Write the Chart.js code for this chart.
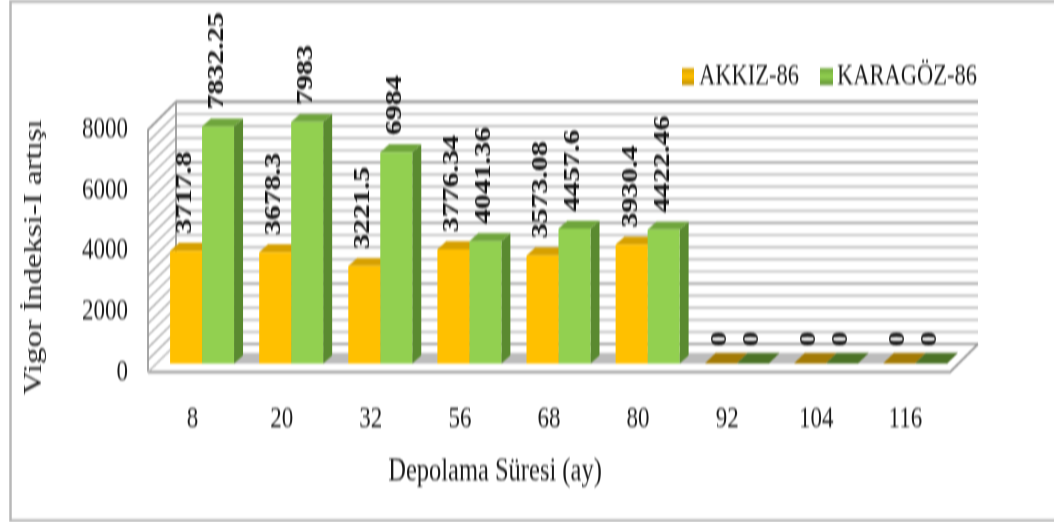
<!DOCTYPE html>
<html>
<head>
<meta charset="utf-8">
<style>
html,body{margin:0;padding:0;background:#fff;overflow:hidden;width:1054px;height:522px}
#w{width:1054px;height:402px;transform-origin:0 0;transform:scale(1,1.2985);filter:blur(.7px)}
canvas{display:block}
</style>
<script src="https://cdn.jsdelivr.net/npm/chart.js@4"></script>
</head>
<body>
<div id="w"><canvas id="c" width="1054" height="402"></canvas></div>
<script>
const categories = ['8','20','32','56','68','80','92','104','116'];
const akkiz = [3717.8,3678.3,3221.5,3776.34,3573.08,3930.4,0,0,0];
const karagoz = [7832.25,7983,6984,4041.36,4457.6,4422.46,0,0,0];
const seriesNames = ['AKKIZ-86','KARAGÖZ-86'];
const xTitle = 'Depolama Süresi (ay)';
const yTitle = 'Vigor İndeksi-I artışı';

const K = 1.2985, SERIF = '"Liberation Serif","Times New Roman",serif';
const WALL = {dx:28, dy:28/K}, BAR = {dx:9.5, dy:8.5/K}, DEPTH = {dx:9, dy:8/K}, FLAT = {dx:11, dy:10.5/K};
const face = [
 {front:'#ffc000', side:'#b98a00', top:'#d6a000', flat:'#a37a05'},
 {front:'#92d050', side:'#5a8a30', top:'#6fa53c', flat:'#4b7326'}
];
function poly(ctx, pts, fill, stroke, lw){
  ctx.beginPath();
  pts.forEach((p,i)=> i?ctx.lineTo(p[0],p[1]):ctx.moveTo(p[0],p[1]));
  ctx.closePath();
  if(fill){ctx.fillStyle=fill;ctx.fill();}
  if(stroke){ctx.strokeStyle=stroke;ctx.lineWidth=lw||1;ctx.stroke();}
}
const scene = {
  id:'scene',
  beforeDraw(chart){
    const {ctx, scales:{x,y}} = chart;
    const L=x.left,R=x.right,B=y.getPixelForValue(0),T=y.getPixelForValue(8000);
    ctx.save();
    ctx.fillStyle='#fff';ctx.fillRect(0,0,chart.width,chart.height);
    // frame
    ctx.strokeStyle='#b8b8b8';ctx.lineWidth=2.5;
    ctx.strokeRect(10.5,1,1080,400);
    // floor
    poly(ctx,[[L,B],[L+WALL.dx,B-WALL.dy],[R+WALL.dx,B-WALL.dy],[R,B]],'#fff');
    // back wall + left wall lines
    y.ticks.forEach(t=>{
      const p=y.getPixelForValue(t.value), major=t.value%2000===0;
      ctx.strokeStyle=major?'#a0a0a0':'#bebebe';
      ctx.lineWidth=major?1.8:1.7;
      ctx.beginPath();
      ctx.moveTo(L+WALL.dx,p-WALL.dy);ctx.lineTo(R+WALL.dx,p-WALL.dy);ctx.stroke();
      ctx.strokeStyle='#b0b0b0';ctx.lineWidth=1.4;
      ctx.beginPath();
      ctx.moveTo(L,p);ctx.lineTo(L+WALL.dx,p-WALL.dy);ctx.stroke();
    });
    // wall edges
    ctx.strokeStyle='#989898';ctx.lineWidth=1.7;
    ctx.beginPath();
    ctx.moveTo(L,B);ctx.lineTo(L,T);ctx.lineTo(L+WALL.dx,T-WALL.dy);ctx.lineTo(R+WALL.dx,T-WALL.dy);
    ctx.stroke();
    ctx.beginPath();
    ctx.moveTo(L+WALL.dx,T-WALL.dy);ctx.lineTo(L+WALL.dx,B-WALL.dy);ctx.stroke();
    // floor outline
    ctx.strokeStyle='#989898';ctx.lineWidth=1.8;
    ctx.beginPath();
    ctx.moveTo(L,B);ctx.lineTo(R,B);ctx.lineTo(R+WALL.dx,B-WALL.dy);ctx.stroke();
    ctx.strokeStyle='#c6c6c6';ctx.lineWidth=1.2;
    ctx.beginPath();
    ctx.moveTo(L,B);ctx.lineTo(L+WALL.dx,B-WALL.dy);ctx.stroke();
    // floor shadow band
    const first=chart.getDatasetMeta(0).data[0], last=chart.getDatasetMeta(1).data[8];
    const bx0=first.x-first.width/2+BAR.dx, bx1=last.x+last.width/2+BAR.dx, by=B-BAR.dy;
    poly(ctx,[[bx0,by],[bx0+FLAT.dx,by-FLAT.dy],[bx1+FLAT.dx,by-FLAT.dy],[bx1,by]],'#bcbcbc');
    ctx.restore();
  },
  beforeDatasetsDraw(chart){
    const ctx=chart.ctx;
    ctx.save();
    ctx.translate(BAR.dx,-BAR.dy);
    [0,1].forEach(d=>{
      chart.getDatasetMeta(d).data.forEach(b=>{
        const l=b.x-b.width/2,r=b.x+b.width/2,t=b.y,base=b.base,f=face[d];
        const flat=Math.abs(base-t)<0.5, D=flat?FLAT:DEPTH;
        if(!flat) poly(ctx,[[r,t],[r+D.dx,t-D.dy],[r+D.dx,base-D.dy],[r,base]],f.side);
        poly(ctx,[[l,t],[l+D.dx,t-D.dy],[r+D.dx,t-D.dy],[r,t]],flat?f.flat:f.top);
      });
    });
  },
  afterDatasetsDraw(chart){
    const ctx=chart.ctx;
    ctx.restore();
    // data labels
    ctx.save();
    ctx.font='bold 23px '+SERIF;
    ctx.fillStyle='#111';
    ctx.textAlign='left';ctx.textBaseline='middle';
    [0,1].forEach(d=>{
      const vals=chart.data.datasets[d].data;
      chart.getDatasetMeta(d).data.forEach((b,i)=>{
        ctx.save();
        ctx.translate(b.x+BAR.dx-1,b.y-BAR.dy-DEPTH.dy-7);
        ctx.rotate(-Math.PI/2);
        ctx.fillText(String(vals[i]),0,0);
        ctx.restore();
      });
    });
    ctx.restore();
  },
  afterDraw(chart){
    const ctx=chart.ctx;
    ctx.save();
    ctx.fillStyle='#1a1a1a';
    ctx.textBaseline='middle';
    // axis titles
    ctx.textAlign='center';
    ctx.font='24.5px '+SERIF;
    ctx.fillText(xTitle,495,472/K);
    ctx.save();
    ctx.translate(34,257/K);ctx.rotate(-Math.PI/2);
    ctx.font='25.3px '+SERIF;
    ctx.fillText(yTitle,0,0);
    ctx.restore();
    // legend
    ctx.textAlign='left';
    ctx.font='22.5px '+SERIF;
    const items=[{bx:682,tx:699,w:12},{bx:820,tx:837,w:13}];
    items.forEach((it,d)=>{
      const g=ctx.createLinearGradient(0,52,0,66);
      g.addColorStop(0,face[d].top);g.addColorStop(.5,face[d].front);g.addColorStop(1,face[d].side);
      ctx.fillStyle=g;
      ctx.fillRect(it.bx,52.5,it.w,13);
      ctx.fillStyle='#1a1a1a';
      ctx.fillText(chart.data.datasets[d].label,it.tx,59.5);
    });
    ctx.restore();
  }
};
new Chart(document.getElementById('c'),{
  type:'bar',
  data:{
    labels:categories,
    datasets:[
      {label:seriesNames[0],data:akkiz,backgroundColor:face[0].front,borderWidth:0},
      {label:seriesNames[1],data:karagoz,backgroundColor:face[1].front,borderWidth:0}
    ]
  },
  plugins:[scene],
  options:{
    responsive:false,
    animation:false,
    layout:{padding:{left:0,top:100,right:104,bottom:0}},
    plugins:{legend:{display:false},tooltip:{enabled:false},title:{display:false}},
    datasets:{bar:{categoryPercentage:0.718,barPercentage:1}},
    scales:{
      x:{
        grid:{display:false},border:{display:false},
        ticks:{color:'#1a1a1a',font:{family:SERIF,size:23},padding:15,maxRotation:0,autoSkip:false},
        afterFit(s){s.height=115.5;}
      },
      y:{
        min:0,max:8000,
        grid:{display:false,drawTicks:false},border:{display:false},
        ticks:{stepSize:400,autoSkip:false,color:'#1a1a1a',font:{family:SERIF,size:23},padding:20,
          callback:v=>v%2000===0?String(v):''},
        afterFit(s){s.width=148;}
      }
    }
  }
});
</script>
</body>
</html>
